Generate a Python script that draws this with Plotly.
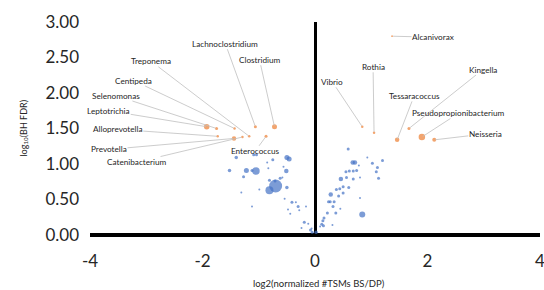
import plotly.graph_objects as go

# ---- data ----
blue_x = [-1.40, -1.09, -1.04, -0.85, -0.75, -0.50, -0.46, -1.52, -1.22, -1.12, -1.05, -1.27, -0.83,
          -0.51, -0.56, -0.81, -0.71, -0.62, -0.58, -0.70, -0.81, -0.99, -0.50, -1.31, -0.54, -0.41,
          -0.34, -0.30, -0.16, -1.12, -0.48, -0.28, -0.44, -0.19, -0.12, -0.24, -0.08, -0.05,
          0.59, 0.67, 0.71, 0.93, 1.02, 1.20, 0.78, 1.11, 0.55, 0.61, 0.68, 0.74, 1.09, 0.46, 0.56,
          0.68, 0.80, 1.13, 0.60, 0.50, 0.44, 0.38, 0.28, 0.42, 0.50, 0.80, 0.34, 0.24, 0.27, 0.32,
          0.45, 0.84, 0.22, 0.37, 0.16, 0.14, 0.12, 0.15, 0.09, 0.31, 0.02, -0.06]
blue_y = [1.09, 1.13, 1.13, 1.02, 1.06, 1.09, 1.07, 0.91, 0.91, 0.91, 0.90, 0.82, 0.94,
          0.90, 0.96, 0.77, 0.76, 0.80, 0.81, 0.69, 0.63, 0.64, 0.67, 0.60, 0.51, 0.46,
          0.46, 0.40, 0.40, 0.40, 0.36, 0.35, 0.30, 0.18, 0.16, 0.10, 0.07, 0.04,
          1.21, 1.02, 1.02, 1.09, 1.01, 1.05, 0.98, 0.95, 0.89, 0.90, 0.90, 0.91, 0.89, 0.79, 0.81,
          0.79, 0.81, 0.80, 0.67, 0.68, 0.65, 0.64, 0.57, 0.55, 0.59, 0.52, 0.47, 0.47, 0.47, 0.40,
          0.37, 0.29, 0.31, 0.31, 0.24, 0.20, 0.15, 0.13, 0.12, 0.14, 0.04, 0.09]
blue_weight = [3.5, 3, 3, 2, 3, 5, 5, 3.5, 5, 3, 7.5, 3, 2,
               4.5, 2, 3, 3, 3, 2, 13, 8, 2, 3.5, 2, 2, 3,
               2, 3, 2, 2, 2, 2, 2, 3, 2, 2, 3, 3,
               3, 4.5, 4.5, 2, 3, 3, 2, 3, 3, 3, 3, 3, 3, 4.5, 3,
               3, 2, 3, 3, 3, 3, 3, 4.5, 3, 3, 2, 3, 3, 3, 3,
               2, 6, 3, 3, 3, 3, 3, 3, 2, 2, 3.5, 2]

genus = ["Leptotrichia", "Selenomonas", "Alloprevotella", "Centipeda", "Prevotella",
         "Catenibacterium", "Treponema", "Lachnoclostridium", "Enterococcus", "Clostridium",
         "Vibrio", "Rothia", "Alcanivorax", "Tessaracoccus", "Kingella",
         "Pseudopropionibacterium", "Neisseria"]
orange_x = [-1.925, -1.75, -1.73, -1.43, -1.44, -1.29, -1.17, -1.06, -0.87, -0.72,
            0.84, 1.05, 1.37, 1.46, 1.67, 1.90, 2.12]
orange_y = [1.525, 1.50, 1.39, 1.50, 1.36, 1.38, 1.39, 1.525, 1.39, 1.525,
            1.525, 1.44, 2.80, 1.34, 1.50, 1.38, 1.34]
orange_weight = [5.5, 3, 2.5, 2.5, 4.5, 2.5, 2.5, 3, 3, 5,
                 2.5, 2.5, 1.8, 4.5, 3, 6.5, 4]

x_ticks = [-4, -2, 0, 2, 4]
y_ticks = [0, 0.5, 1.0, 1.5, 2.0, 2.5, 3.0]

# label offsets in pixels (layout only)
label_offsets = {
    "Leptotrichia": (-98, -16), "Selenomonas": (-101, -33), "Alloprevotella": (-100, -7),
    "Centipeda": (-101, -48), "Prevotella": (-125, 11), "Catenibacterium": (-105, 25),
    "Treponema": (-98, -75), "Lachnoclostridium": (-30, -83), "Enterococcus": (-11, 15),
    "Clostridium": (-15, -67), "Vibrio": (-30, -45), "Rothia": (-1, -66),
    "Alcanivorax": (41, 1), "Tessaracoccus": (17, -44), "Kingella": (74, -59),
    "Pseudopropionibacterium": (37, -24), "Neisseria": (51, -6),
}

FONT = "Lato"
TXT = "#262626"

fig = go.Figure()
fig.add_trace(go.Scatter(x=blue_x, y=blue_y, mode="markers",
                         marker=dict(color="#4472C4", size=blue_weight, line=dict(width=0)),
                         hoverinfo="skip", showlegend=False))
fig.add_trace(go.Scatter(x=orange_x, y=orange_y, mode="markers", text=genus,
                         marker=dict(color="#ED7D31", size=orange_weight, line=dict(width=0)),
                         showlegend=False))

annotations = []
for g, xv, yv in zip(genus, orange_x, orange_y):
    ax, ay = label_offsets[g]
    annotations.append(dict(x=xv, y=yv, xref="x", yref="y", text=g, showarrow=True,
                            ax=ax, ay=ay, arrowhead=0, arrowwidth=0.8, arrowcolor="#bfbfbf",
                            standoff=1, font=dict(family=FONT, size=8.2, color=TXT),
                            borderpad=0))

annotations.append(dict(x=0, y=0.5, xref="paper", yref="paper", xshift=-75,
                        text="log<sub>10</sub>(BH FDR)", textangle=-90, showarrow=False,
                        font=dict(family=FONT, size=9, color=TXT)))
annotations.append(dict(x=0.5, y=0, xref="paper", yref="paper", xshift=4, yshift=-56,
                        text="log2(normalized #TSMs BS/DP)", showarrow=False,
                        font=dict(family=FONT, size=9.5, color=TXT)))

fig.update_layout(
    width=544, height=290,
    margin=dict(l=90, r=4, t=22, b=55, autoexpand=False),
    paper_bgcolor="white", plot_bgcolor="white",
    font=dict(family=FONT, color=TXT),
    annotations=annotations,
    xaxis=dict(range=[-4, 4], tickvals=x_ticks, ticktext=[str(v) for v in x_ticks],
               showgrid=False, zeroline=True, zerolinecolor="black", zerolinewidth=3,
               showline=False, ticks="", ticklabelstandoff=14, ticklabeloverflow="allow",
               tickfont=dict(family=FONT, size=17, color=TXT)),
    yaxis=dict(range=[0, 3], tickvals=y_ticks, ticktext=[f"{v:.2f}" for v in y_ticks],
               showgrid=False, zeroline=True, zerolinecolor="black", zerolinewidth=3.5,
               showline=False, ticks="", ticklabelstandoff=10, ticklabeloverflow="allow",
               tickfont=dict(family=FONT, size=17, color=TXT)),
)

fig.write_html("out.html", config={"displayModeBar": False},
               post_script="document.body.style.margin='0';")
